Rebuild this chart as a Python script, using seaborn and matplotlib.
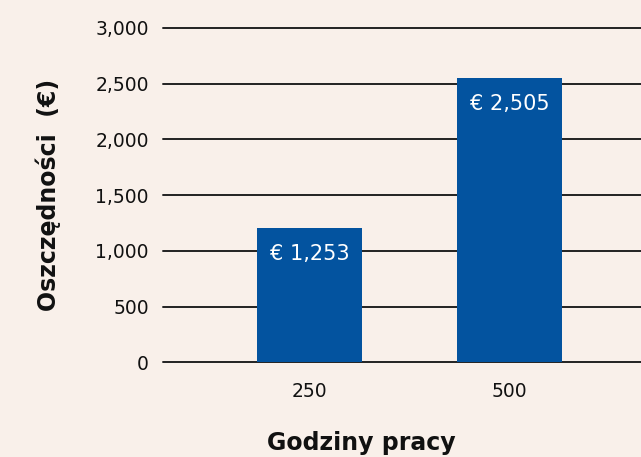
import pandas as pd
import seaborn as sns
import matplotlib.pyplot as plt
from matplotlib.ticker import FuncFormatter

# chart values
hours = ['250', '500']
savings = [1205, 2550]
savings_labels = ['€ 1,253', '€ 2,505']
y_ticks = [0, 500, 1000, 1500, 2000, 2500, 3000]

bg = '#f9f0ea'
bar_color = '#03539f'
ink = '#111111'

sns.set_style('white', {'axes.facecolor': bg, 'figure.facecolor': bg})
plt.rcParams['font.family'] = ['DejaVu Sans']

df = pd.DataFrame({'Godziny pracy': hours, 'Oszczędności': savings})

fig = plt.figure(figsize=(6.41, 4.57), dpi=100)
ax = fig.add_axes([0.254, 0.207, 0.746, 0.732])

ax.set_axisbelow(True)
ax.yaxis.grid(True, color='#222222', linewidth=1.4)
sns.barplot(data=df, x='Godziny pracy', y='Oszczędności', color=bar_color,
            saturation=1, width=0.525, edgecolor='none', linewidth=0, ax=ax)

for i, lab in enumerate(savings_labels):
    ax.annotate(lab, (i, savings[i]), xytext=(0, -19), textcoords='offset points',
                ha='center', va='center', color='white', fontsize=15)

ax.set_ylim(0, 3000)
ax.set_xlim(-0.7325, 1.6575)
ax.set_yticks(y_ticks)
ax.yaxis.set_major_formatter(FuncFormatter(lambda v, p: f'{int(v):,}'))
ax.tick_params(axis='y', length=0, pad=10, labelsize=13.5, labelcolor=ink)
ax.tick_params(axis='x', length=0, pad=14, labelsize=13.5, labelcolor=ink)
for gl in ax.get_ygridlines():
    gl.set_clip_on(False)
sns.despine(ax=ax, left=True, bottom=True)

ax.set_xlabel('Godziny pracy', fontsize=17, fontweight='bold', color=ink)
ax.xaxis.set_label_coords(0.416, -0.205)
ax.set_ylabel('Oszczędności  (€)', fontsize=17, fontweight='bold', color=ink)
ax.yaxis.set_label_coords(-0.213, 0.5)

fig.savefig('out.png', dpi=100, facecolor=bg)
